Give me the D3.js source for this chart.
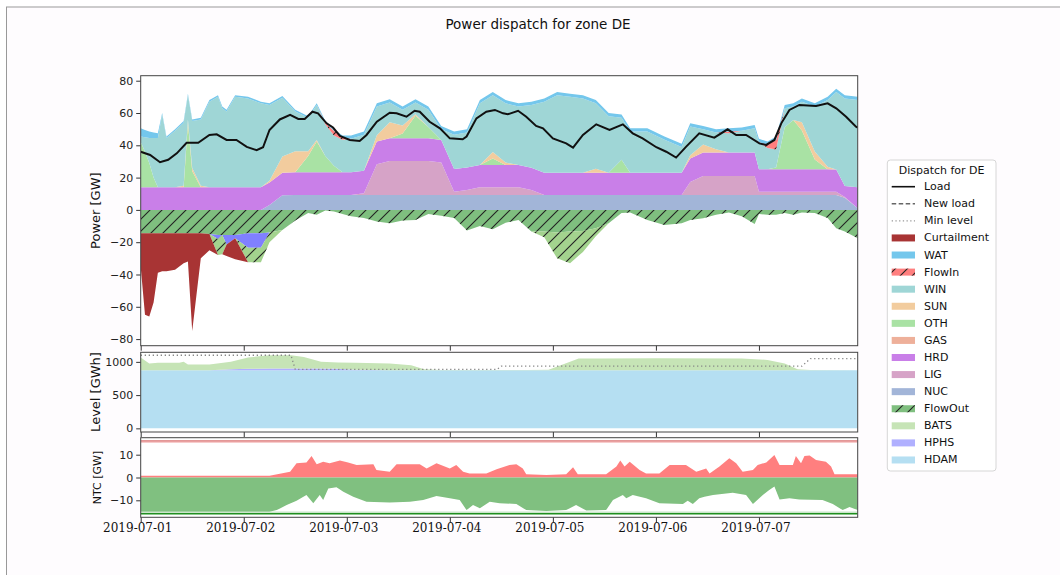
<!DOCTYPE html>
<html><head><meta charset="utf-8">
<script src="https://cdn.jsdelivr.net/npm/d3@7"></script>
<style>
body{margin:0;background:#fff;}
svg{display:block;font-family:"DejaVu Sans",sans-serif;}
</style></head><body>
<svg id="chart" width="1060" height="575"></svg>
<script>
// ---------- DATA (hours since 2019-07-01 00:00 UTC) ----------
const hours = [0,1,2,3,4,5,6,8,10,11, 12,14,16,18,19,20,22,25,28,30, 33,36,39,41,43,45,47,49,52,55,
  58,61,64,67,70,73,76,79,82,85, 88,91,94,97,100,103,106,109,112,114, 118,122,126,128,131,134,137,140,143,144,
  146,148,150,152,154,157,160,162,164,167];
// positive dispatch [GW]
const NUC = [0,0,0,0,0,0,0,0,0,0, 0,0,0,0,0,0,0,0,0,3, 9,9.3,9.3,9.3,9.3,9.3,9.3,9.3,9.3,9.3,
  9.3,9.3,9.3,9.3,9.3,9.3,9.3,9.3,9.3,9.3, 9.3,9.3,9.3,9.3,9.3,9.3,9.3,9.3,9.3,9.3, 9.3,9.3,9.3,9.3,9.3,9.3,9.3,9.3,9.3,9.3,
  9.3,9.3,9.3,9.3,9.3,9.3,9.3,9.3,7.5,1];
const LIG = [0,0,0,0,0,0,0,0,0,0, 0,0,0,0,0,0,0,0,0,0, 0,0,0,0,0,0,0,0,1,19,
  21,21,21,21,20,2,3,4.7,4.7,4.7, 4.7,3,0,0,0,0,0,0,0,0, 0,0,0,8,11.7,11.7,11.7,11.7,11.7,2,
  2,2,2,2,2,2,2,2,0.5,0];
const HRD = [14,14,14,14,14,14,14,14,14,14, 14,14,14,14,14,14,14,14,14,14, 14,14,14,14,14,14,14,14,14,14,
  14,14,14,14,14,14,14,13.8,13.8,13.8, 13.8,13.8,13.7,13.7,13.7,13.7,13.7,13.7,13.7,13.7, 13.7,13.7,13.7,14.5,14.5,14.5,14.5,14.5,14.5,13.9,
  13.9,13.9,13.9,13.9,13.9,13.9,13.9,13.7,6.8,13];
const GAS = hours.map(() => 0);
const OTH = [28,22,15,6,0,0,0,0,0,40, 10,0,0,0,0,0,0,0,0,0, 0,0,10,19,10,4,0,0,0,0,
  0,3,14,7,0,0,0,0,4,0, 0,0,0,0,0,0,0,0,8,0, 0,0,0,0,0,0,0,0,0,0,
  0,1,26,30.5,24,6,0,0,0,0];
const SUN = [0,0,0,0,0,0,0,0,1,2, 2,1,0,0,0,0,0,0,0,1, 10,13,3,1,0,0,0,0,0,4,
  10,5,1,0,0,0,0,0,4,1.5, 0,0,0,0,0,0,2.5,0,0,0, 0,0,0,2,5,2,0,0,0,0,
  0,0,0,0,5,5,1.5,0,0,0];
const WIN = [3.5,9,15.5,24.5,30.5,45,30.5,35,39,15, 29,41,53,56,49,47,56,55,52,47, 36.5,24.7,20.7,21.7,19.7,18.7,20.2,20.7,22.2,17.7,
  12.2,9.7,7.2,10.7,6.7,21.2,21.7,38.2,35.2,36.7, 36.2,38.9,44,48,47,46,40.5,35,26,25.5, 25.5,20.5,16,17.8,9.5,10.5,12,13.5,15.1,16.8,
  13.1,11.2,11.8,8.3,12.8,27.8,41.3,48,54.2,54];
const FlowIn = [0,0,0,0,0,0,0,0,0,0, 0,0,0,0,0,0,0,0,0,0, 0,0,0,0,1,3,1.5,0,0,0,
  0,0,0,0,0,0,0,0,0,0, 0,0,0,0,0,0,0,0,0,0, 0,0,0,0,0,0,1,0,0,0,
  2,6,0,0,0,0,0,0,0,0];
const WAT = [5,4.5,4,3.5,3,1,1,1,1,1, 1,1,1,1,1,1,1,1,1,1, 1,1,1,1,1,1,1,2,2,2,
  2,2,2,2,2,2,2,2,2,2, 2,2,2,2,2,2,2,2,2,2, 2,2,2,2,2,2,2,2,2,2,
  2,2,2,2,2,2,2,2,2,2];
// negative dispatch [GW]
const FlowOut = [-14.4,-14.4,-14.4,-14.4,-14.4,-14.4,-14.4,-14.4,-14.4,-14.4,
  -14.4,-14.4,-15,-15.5,-15.5,-15.5,-15.5,-14.4,-14.4,-14,
  -12.5,-6.6,-2,-3,-0.3,-1,-2.5,-4,-5,-7.2,
  -8.2,-6.6,-6.2,-2.5,-3.7,-5,-12.8,-9.9,-12,-8,
  -6.2,-13.4,-13.4,-14,-13.4,-13,-11.3,-8.2,-2,-1.6,
  -6.2,-9.3,-8.2,-6.2,-5.2,-3,-1.6,-4,-8.7,-2.5,
  -3,-3,-2,-3,-1.6,-2,-5,-11.3,-13.4,-17.5];
const HPHSdisp = [0,0,0,0,0,0,0,0,0,0, 0,0,0,-2.5,0,-6,-2,-9,-9,0, 0,0,0,0,0,0,0,0,0,0,
  0,0,0,0,0,0,0,0,0,0, 0,0,0,0,0,0,0,0,0,0, 0,0,0,0,0,0,0,0,0,0,
  0,0,0,0,0,0,0,0,0,0];
const BATSdisp = [0,0,0,0,0,0,0,0,0,0, 0,0,0,-10,-12,0,0,-9,-9,-6, 0,0,0,0,0,0,0,0,0,0,
  0,0,0,0,0,0,0,0,0,0, 0,0,-3.5,-16,-19.6,-13,-5,0,0,0, 0,0,0,0,0,0,0,0,0,0,
  0,0,0,0,0,0,0,0,0,0];
const Curtailment = [-21,-50.6,-51.6,-43,-24.6,-23.6,-23.6,-22.6,-18.6,-17.6,
  -60.6,-15.6,-10,0,0,-7,-13,0,0,0, 0,0,0,0,0,0,0,0,0,0,
  0,0,0,0,0,0,0,0,0,0, 0,0,0,0,0,0,0,0,0,0, 0,0,0,0,0,0,0,0,0,0,
  0,0,0,0,0,0,0,0,0,0];
// load [GW]
const loadHours = [0,2.2,4.5,6.4,8.4,10.7,13.4,16,17.7,20,22.3,24.7,27,28.5,30,32.4,34.8,36.7,38.2,40,41.3,43.3,44.8,46.4,48.7,51,52.6,55,58,59.6,61.9,63.8,65,67.3,69.7,72,75,75.9,78.2,80.5,82.5,84.4,85.5,87.9,89.8,92.1,93.7,96,99.1,100.7,103,106.1,109.2,112.3,114.6,116.9,120.1,122.4,124.7,127,130.1,133.6,136.7,138.7,141,144.1,145.7,147.6,149.2,151.1,153.4,157.3,160,162,164.3,166.6,167];
const load = [36,34,29.5,31,35,41.6,41.6,46.4,46.8,43.3,43.3,39,37,38.8,49.5,56,58.8,56.3,56.3,60.8,59.8,53.6,51,45.8,43.3,42.7,46.4,54.6,60.2,59.8,57.7,61.4,60.8,54.6,50.5,44.3,43.7,45.4,56.7,60.8,61.9,59.8,59.2,61.4,57.7,52,50.5,44.3,41.2,38.6,46.4,53,49.5,53,47.4,44.3,38.8,36,32.4,39,47.4,44.7,49.9,46.4,46.4,41.2,40.2,43.3,53.6,61.9,65,64.3,66,62.9,57.7,51.5,51];
// storage level [GWh]
const levelHours = [0,2,4,9,10,11,16,21,25,30,35,38,42,46,50,58,63,66,70,80,90,95,100,102,107,120,140,146,150,153,156,167];
const hdamLevel = levelHours.map(() => 875);
const hphsLevel = [0,0,0,0,0,0,0,15,20,25,25,25,25,20,5,0,0,0,0,0,0,0,0,0,0,0,0,0,0,0,0,0];
const batsLevel = [191,101,111,111,125,85,85,110,171,200,200,175,100,95,106,101,75,15,1,1,1,5,125,175,177,180,177,155,101,15,1,0];
const minLevelHours = [0,35,36,83,84,154,156,167];
const minLevel = [1100,1100,886,886,935,935,1050,1050];
// NTC [GW]
const importHours = [0,30,34.8,36.3,38.6,39.8,41,42.5,44,46.4,48.3,50.3,54.2,54.9,58,59.6,65,66.6,68.9,72,73.5,75.1,76.6,80.5,82.9,85.9,87.5,89,89.8,94.5,99.1,100.7,101.8,108.4,110.8,111.7,112.7,113.9,116.2,117.7,120.8,123.2,127,129.4,131.7,132.5,134.8,137.1,138.7,140.2,142.6,143.7,145.7,147.6,148.8,151.9,152.6,153.8,154.6,155.8,157.3,159.6,160.8,161.6,167];
const importFlow = [0.8,0.8,2.5,6.2,6.6,9.4,5.8,6.9,6.2,7.4,6.6,5.5,5.8,3.3,2.5,5.8,5.8,4,6.2,4,5.5,2.5,1.8,1.8,3.6,5.5,5.8,4,1.4,1.1,1.4,4.5,1.4,1.4,4.8,7.4,4.8,6.9,3.3,1.8,1.8,5.5,5.5,2.5,4,1.8,4.8,8.4,6.2,2.5,3.3,5.5,6.6,9.9,5.5,5.5,9.4,6.2,9.4,9.6,7.7,6.9,4.8,1.4,1.4];
const exportHours = [0,30,31.7,34,36.3,38.6,40.2,41.7,42.5,43.7,45.6,47.2,49.5,52.6,58,62.7,65.8,68.9,72,74.3,75.9,77.4,79,81.3,83.6,87.5,89.8,94.5,99.1,101.4,103.8,108.4,110,112.3,113.1,114.6,117.7,120.8,126.3,127.4,128.6,130.1,131.3,133.3,137.9,141,142.6,144.9,146.4,147.6,148.8,151.1,153.4,158.8,161.2,163.5,165.1,167];
const exportFlow = [-15,-15,-14.3,-12.1,-10.2,-7.7,-11.3,-7.7,-9.9,-4.8,-4.3,-6.2,-8.4,-10.6,-11,-10.6,-9.9,-8.1,-9.1,-9.9,-14.3,-12.1,-13.5,-10.6,-11.3,-11.6,-14.3,-14.7,-14.3,-12.1,-14.5,-14.3,-9.9,-7.7,-9.1,-7.7,-9.1,-11.3,-11.6,-10.2,-11.6,-9.1,-8.4,-7.7,-6.7,-7.7,-11.6,-7.7,-5.5,-4,-9.6,-9.1,-9.6,-9.9,-11.6,-14.3,-12.9,-14.3];
const ntcImport = 16, ntcExport = -15.9;
// ticks / labels
const dayTicks = ["2019-07-01","2019-07-02","2019-07-03","2019-07-04","2019-07-05","2019-07-06","2019-07-07"];
const powerTicks = [-80,-60,-40,-20,0,20,40,60,80];
const levelTicks = [0,500,1000];
const ntcTicks = [-10,0,10];
const legendItems = ["Load","New load","Min level","Curtailment","WAT","FlowIn","WIN","SUN","OTH","GAS","HRD","LIG","NUC","FlowOut","BATS","HPHS","HDAM"];

// ---------- STYLES ----------
const colors = {Curtailment:"#a83434", WAT:"#74c7ec", FlowIn:"#ff7f7f", WIN:"#9fd6d6", SUN:"#f2cc9e", OTH:"#a9e2a4",
  GAS:"#eeb09a", HRD:"#c97fe8", LIG:"#d6a3c7", NUC:"#a2b5d8", FlowOut:"#7fbf7f", BATS:"#c6e4b6", HPHS:"#b0b0ff", HDAM:"#b5dff2"};
const dispatchNegColors = {FlowOut:"#7fbf7f", HPHS:"#8080ff", BATS:"#a3d38e", Curtailment:"#a83434"};

const svg = d3.select("#chart");
const t0 = Date.UTC(2019,6,1);
const T = h => new Date(t0 + h*3600e3);
const L = 140.7, R = 857.7;
const x = d3.scaleUtc().domain([T(0), T(167)]).range([L, R]);

// frame
svg.append("rect").attr("x",6.5).attr("y",7).attr("width",1060).attr("height",575).attr("fill","#fefcfe").attr("stroke","#999").attr("stroke-width",1);

const defs = svg.append("defs");
const pat = defs.append("pattern").attr("id","hatch").attr("patternUnits","userSpaceOnUse").attr("width",12).attr("height",12);
pat.append("path").attr("d","M-3,3 L3,-3 M0,12 L12,0 M9,15 L15,9").attr("stroke","#222").attr("stroke-width",1.1);

const panels = {
  top:{y0:75.7, y1:345.7, dom:[-84.1,83.1]},
  mid:{y0:352.3, y1:432, dom:[-55,1144]},
  bot:{y0:437.7, y1:517.3, dom:[-17.45,17.45]}
};
Object.entries(panels).forEach(([k,p])=>{
  p.y = d3.scaleLinear().domain(p.dom).range([p.y1,p.y0]);
  defs.append("clipPath").attr("id","clip-"+k).append("rect").attr("x",L).attr("y",p.y0).attr("width",R-L).attr("height",p.y1-p.y0);
  p.g = svg.append("g").attr("clip-path",`url(#clip-${k})`);
  svg.append("rect").attr("x",L).attr("y",p.y0).attr("width",R-L).attr("height",p.y1-p.y0).attr("fill","#fff");
});
Object.values(panels).forEach(p=>p.g.raise());

function stack(xs, list){
  let base = xs.map(()=>0);
  return list.map(([k,vals])=>{
    const layer = xs.map((h,i)=>({h, y0:base[i], y1:base[i]+vals[i]}));
    base = base.map((b,i)=>b+vals[i]);
    return {k, layer};
  });
}
function areaGen(p){ return d3.area().x(d=>x(T(d.h))).y0(d=>p.y(d.y0)).y1(d=>p.y(d.y1)); }

// ---- top panel ----
const P = panels.top, aT = areaGen(P);
const posLayers = stack(hours, [["NUC",NUC],["LIG",LIG],["HRD",HRD],["GAS",GAS],["OTH",OTH],["SUN",SUN],["WIN",WIN],["FlowIn",FlowIn],["WAT",WAT]]);
const negLayers = stack(hours, [["FlowOut",FlowOut],["HPHS",HPHSdisp],["BATS",BATSdisp],["Curtailment",Curtailment]]);
posLayers.forEach(s=>{
  P.g.append("path").attr("d",aT(s.layer)).attr("fill",colors[s.k]);
  if(s.k==="FlowIn") P.g.append("path").attr("d",aT(s.layer)).attr("fill","url(#hatch)");
});
negLayers.forEach(s=>{
  P.g.append("path").attr("d",aT(s.layer)).attr("fill",dispatchNegColors[s.k]);
  if(s.k==="FlowOut"||s.k==="BATS") P.g.append("path").attr("d",aT(s.layer)).attr("fill","url(#hatch)");
});
P.g.append("path").datum(loadHours.map((h,i)=>[h,load[i]]))
  .attr("d",d3.line().x(d=>x(T(d[0]))).y(d=>P.y(d[1])))
  .attr("fill","none").attr("stroke","#111").attr("stroke-width",2);

// ---- middle panel ----
const M = panels.mid, aM = areaGen(M);
const levLayers = stack(levelHours, [["HDAM",hdamLevel],["HPHS",hphsLevel],["BATS",batsLevel]]);
levLayers.forEach(s=> M.g.append("path").attr("d",aM(s.layer)).attr("fill",colors[s.k]));
M.g.append("path").datum(minLevelHours.map((h,i)=>[h,minLevel[i]]))
  .attr("d",d3.line().x(d=>x(T(d[0]))).y(d=>M.y(d[1])))
  .attr("fill","none").attr("stroke","#888").attr("stroke-width",1.3).attr("stroke-dasharray","1.3,2.7");

// ---- bottom panel ----
const B = panels.bot;
const aB = d3.area().x(d=>x(T(d[0]))).y0(B.y(0)).y1(d=>B.y(d[1]));
B.g.append("path").attr("d",aB(importHours.map((h,i)=>[h,importFlow[i]]))).attr("fill","#ff7f7f");
B.g.append("path").attr("d",aB(exportHours.map((h,i)=>[h,exportFlow[i]]))).attr("fill","#80c080");
const hl = (v,c,w)=>B.g.append("line").attr("x1",L).attr("x2",R).attr("y1",B.y(v)).attr("y2",B.y(v)).attr("stroke",c).attr("stroke-width",w);
hl(ntcImport,"#c83232",1.2); hl(ntcImport-0.5,"#f3b0b0",1);
hl(ntcExport,"#1f8f1f",1.6); hl(ntcExport+0.7,"#b0d8b0",1);

// ---- axes ----
const dayDates = dayTicks.map(s=>new Date(s+"T00:00:00Z"));
function styleAxis(g){ g.select(".domain").remove(); g.selectAll(".tick line").attr("stroke","#333"); g.selectAll("text").attr("fill","#222").style("font-size","11px").style("font-family","DejaVu Sans"); }
[["top",powerTicks],["mid",levelTicks],["bot",ntcTicks]].forEach(([k,tv])=>{
  const p = panels[k];
  svg.append("g").attr("transform",`translate(${L},0)`).call(d3.axisLeft(p.y).tickValues(tv).tickFormat(d3.format("d")).tickSize(4.5).tickPadding(3)).call(styleAxis);
  svg.append("g").attr("transform",`translate(0,${p.y1})`).call(d3.axisBottom(x).tickValues(dayDates).tickSize(5).tickFormat("")).call(styleAxis);
  svg.append("rect").attr("x",L).attr("y",p.y0).attr("width",R-L).attr("height",p.y1-p.y0).attr("fill","none").attr("stroke","#444").attr("stroke-width",1);
});
svg.append("g").selectAll("text").data(dayDates).join("text")
  .attr("x",d=>x(d)-3).attr("y",532).attr("text-anchor","middle")
  .style("font-family","'DejaVu Serif',serif").style("font-size","12px").attr("fill","#111")
  .text((d,i)=>dayTicks[i]);

// axis titles
const ylab = (txt,cx,cy,fs)=>svg.append("text").attr("transform",`translate(${cx},${cy}) rotate(-90)`)
  .attr("text-anchor","middle").attr("dominant-baseline","central").style("font-size",fs+"px").attr("fill","#111").text(txt);
ylab("Power [GW]",95,210.7,13);
ylab("Level [GWh]",95,392,13);
ylab("NTC [GW]",97,477.5,11);

// title
svg.append("text").attr("x",538).attr("y",29).attr("text-anchor","middle").style("font-size","13.5px").attr("fill","#111").text("Power dispatch for zone DE");

// ---- legend ----
const lg = svg.append("g");
lg.append("rect").attr("x",887.3).attr("y",160).attr("width",108.7).attr("height",311).attr("rx",3)
  .attr("fill","#fff").attr("stroke","#d6d6d6");
lg.append("text").attr("x",941.6).attr("y",170).attr("text-anchor","middle").attr("dominant-baseline","central")
  .style("font-size","11px").attr("fill","#111").text("Dispatch for DE");
legendItems.forEach((name,i)=>{
  const cy = 186.7 + i*17.08;
  if(name==="Load") lg.append("line").attr("x1",891.7).attr("x2",915).attr("y1",cy).attr("y2",cy).attr("stroke","#111").attr("stroke-width",1.6);
  else if(name==="New load") lg.append("line").attr("x1",891.7).attr("x2",915).attr("y1",cy).attr("y2",cy).attr("stroke","#666").attr("stroke-width",1.4).attr("stroke-dasharray","4.5,2.5");
  else if(name==="Min level") lg.append("line").attr("x1",891.7).attr("x2",915).attr("y1",cy).attr("y2",cy).attr("stroke","#999").attr("stroke-width",1.3).attr("stroke-dasharray","1.3,2.4");
  else {
    lg.append("rect").attr("x",891.7).attr("y",cy-3.5).attr("width",23.3).attr("height",7).attr("fill",colors[name]);
    if(name==="FlowIn"||name==="FlowOut") lg.append("rect").attr("x",891.7).attr("y",cy-3.5).attr("width",23.3).attr("height",7).attr("fill","url(#hatch)");
  }
  lg.append("text").attr("x",924).attr("y",cy).attr("dominant-baseline","central").style("font-size","11px").attr("fill","#111").text(name);
});
</script>
</body></html>
